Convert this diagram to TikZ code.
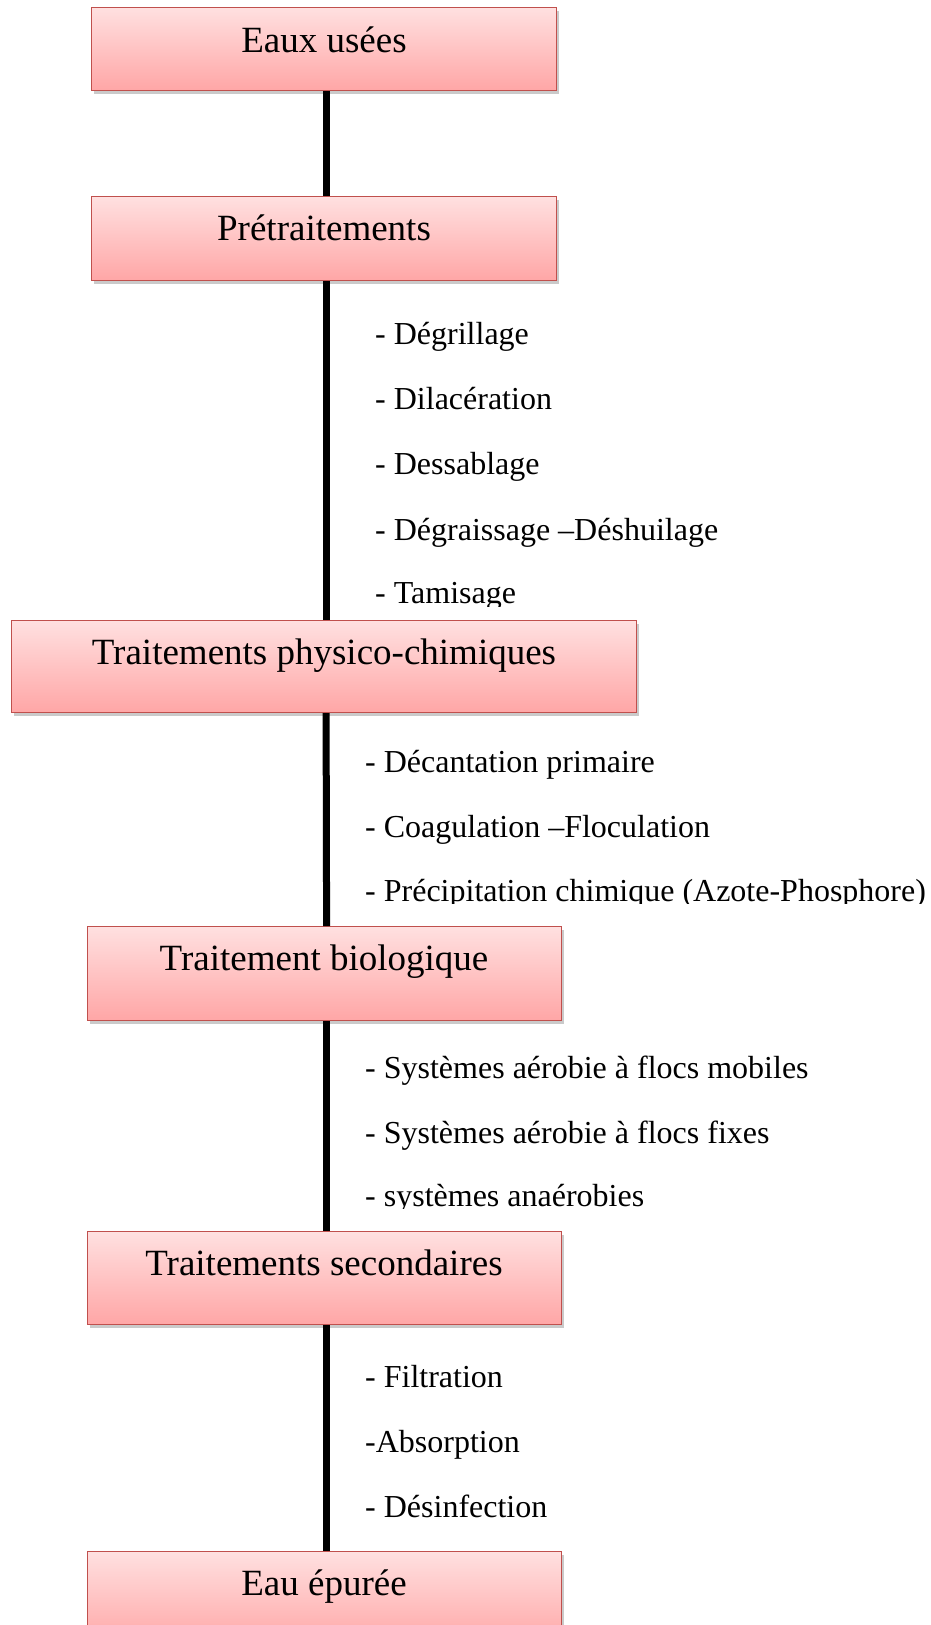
\documentclass[tikz,border=0pt]{standalone}
\usepackage{fontspec}
\setmainfont{Liberation Serif}
\usetikzlibrary{shadows}
\definecolor{boxtop}{RGB}{255,224,224}
\definecolor{boxbot}{RGB}{255,166,166}
\definecolor{boxedge}{RGB}{192,80,77}
\tikzset{
  stage/.style={rectangle, draw=boxedge, line width=1.2pt, inner sep=0pt,
    top color=boxtop, bottom color=boxbot, anchor=north west,
    drop shadow={shadow xshift=2pt, shadow yshift=-3pt, opacity=0.35, fill=black!60}},
  stagetext/.style={anchor=base, inner sep=0pt, font=\fontsize{37}{44}\selectfont},
  item/.style={anchor=base west, inner sep=0pt, font=\fontsize{32}{38}\selectfont},
  link/.style={line width=7pt, black}
}
\begin{document}
\begin{tikzpicture}[x=1pt, y=-1pt]
\useasboundingbox (0,0) rectangle (931,1625);
\clip (0,0) rectangle (931,1625);

% stage boxes
\node[stage, minimum width=465pt, minimum height=83pt] (b1) at (91,7) {};
\node[stage, minimum width=465pt, minimum height=84pt] (b2) at (91,196) {};
\node[stage, minimum width=625pt, minimum height=92pt] (b3) at (11,620) {};
\node[stage, minimum width=474pt, minimum height=94pt] (b4) at (87,926) {};
\node[stage, minimum width=474pt, minimum height=93pt] (b5) at (87,1231) {};
\node[stage, minimum width=474pt, minimum height=94pt] (b6) at (87,1551) {};

% stage titles
\node[stagetext] (t1) at (324,52) {Eaux usées};
\node[stagetext] (t2) at (324,240) {Prétraitements};
\node[stagetext] (t3) at (324,664) {Traitements physico-chimiques};
\node[stagetext] (t4) at (324,970) {Traitement biologique};
\node[stagetext] (t5) at (324,1275) {Traitements secondaires};
\node[stagetext] (t6) at (324,1595) {Eau épurée};

% vertical links
\draw[link] ([xshift=2pt]b1.south) -- ([xshift=2pt]b2.north);
\draw[link] ([xshift=2pt]b2.south) -- ([xshift=2pt]b3.north);
\draw[link] ([xshift=2pt]b3.south) -- ([xshift=2pt]b4.north);
\draw[link] ([xshift=2pt]b4.south) -- ([xshift=2pt]b5.north);
\draw[link] ([xshift=2pt]b5.south) -- ([xshift=2pt]b6.north);

% pretreatment steps
\node[item] (p1) at (375,344) {- Dégrillage};
\node[item] (p2) at (375,409) {- Dilacération};
\node[item] (p3) at (375,474) {- Dessablage};
\node[item] (p4) at (375,540) {- Dégraissage –Déshuilage};
\begin{scope}
  \clip (340,560) rectangle (931,606);
  \node[item] (p5) at (375,603) {- Tamisage};
\end{scope}

% physico-chemical steps
\node[item] (c1) at (365,772) {- Décantation primaire};
\node[item] (c2) at (365,837) {- Coagulation –Floculation};
\begin{scope}
  \clip (340,860) rectangle (931,903);
  \node[item] (c3) at (365,901) {- Précipitation chimique (Azote-Phosphore)};
\end{scope}

% biological steps
\node[item] (g1) at (365,1078) {- Systèmes aérobie à flocs mobiles};
\node[item] (g2) at (365,1143) {- Systèmes aérobie à flocs fixes};
\begin{scope}
  \clip (340,1170) rectangle (931,1208);
  \node[item] (g3) at (365,1206) {- systèmes anaérobies};
\end{scope}

% secondary steps
\node[item] (s1) at (365,1387) {- Filtration};
\node[item] (s2) at (365,1452) {-Absorption};
\node[item] (s3) at (365,1517) {- Désinfection};
\end{tikzpicture}
\end{document}
